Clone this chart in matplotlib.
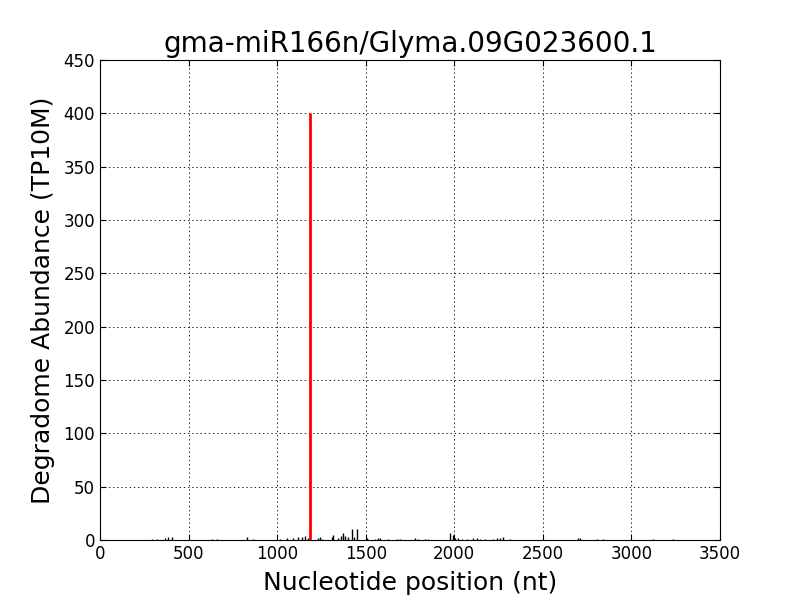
import matplotlib
matplotlib.use("Agg")
import matplotlib.pyplot as plt

# degradome tags along the transcript (position, abundance)
tag_pos = [292, 320, 367, 386, 404, 630, 659, 828, 865, 1016, 1054, 1091, 1118, 1138, 1157, 1175,
           1231, 1242, 1255, 1308, 1317, 1345, 1358, 1370, 1383, 1402, 1420, 1433, 1452,
           1505, 1552, 1571, 1580, 1627, 1674, 1694, 1778, 1797, 1835, 1853,
           1976, 1990, 2004, 2022, 2042, 2070, 2107, 2126, 2145, 2173, 2220, 2239, 2258, 2273,
           2314, 2700, 2710, 2804, 2841, 3122, 3235]
tag_val = [1, 1, 2, 3, 3, 1, 1, 3, 1, 1, 2, 2, 3, 3, 4, 2,
           2, 3, 1, 3, 5, 2, 4, 7, 4, 3, 10, 3, 10,
           2, 1, 2, 2, 1, 1, 1, 2, 1, 1, 1,
           7, 5, 2, 2, 1, 1, 2, 2, 1, 1, 1, 2, 2, 3,
           1, 2, 2, 1, 1, 1, 0.5]

# cleavage site
site_pos = [1185]
site_val = [400]

plt.rcParams['xtick.direction'] = 'in'
plt.rcParams['ytick.direction'] = 'in'
plt.rcParams['xtick.top'] = True
plt.rcParams['ytick.right'] = True
plt.rcParams['lines.scale_dashes'] = False

fig = plt.figure(figsize=(8, 6), dpi=100)
ax = fig.add_axes([0.125, 0.1, 0.775, 0.8])

ax.vlines(tag_pos, 0, tag_val, colors='black', linewidth=1)
ax.vlines(site_pos, 0, site_val, colors='red', linewidth=2)

ax.set_xlim(0, 3500)
ax.set_ylim(0, 450)
ax.set_xticks(range(0, 3501, 500))
ax.set_yticks(range(0, 451, 50))
ax.tick_params(labelsize=12, length=4)
ax.grid(True, color='black', linestyle=(0, (1, 2)), linewidth=0.6)
ax.set_axisbelow(True)

ax.set_title("gma-miR166n/Glyma.09G023600.1", fontsize=20)
ax.set_xlabel("Nucleotide position (nt)", fontsize=18, labelpad=6)
ax.set_ylabel("Degradome Abundance (TP10M)", fontsize=18, labelpad=6)

fig.savefig("out.png", dpi=100)
